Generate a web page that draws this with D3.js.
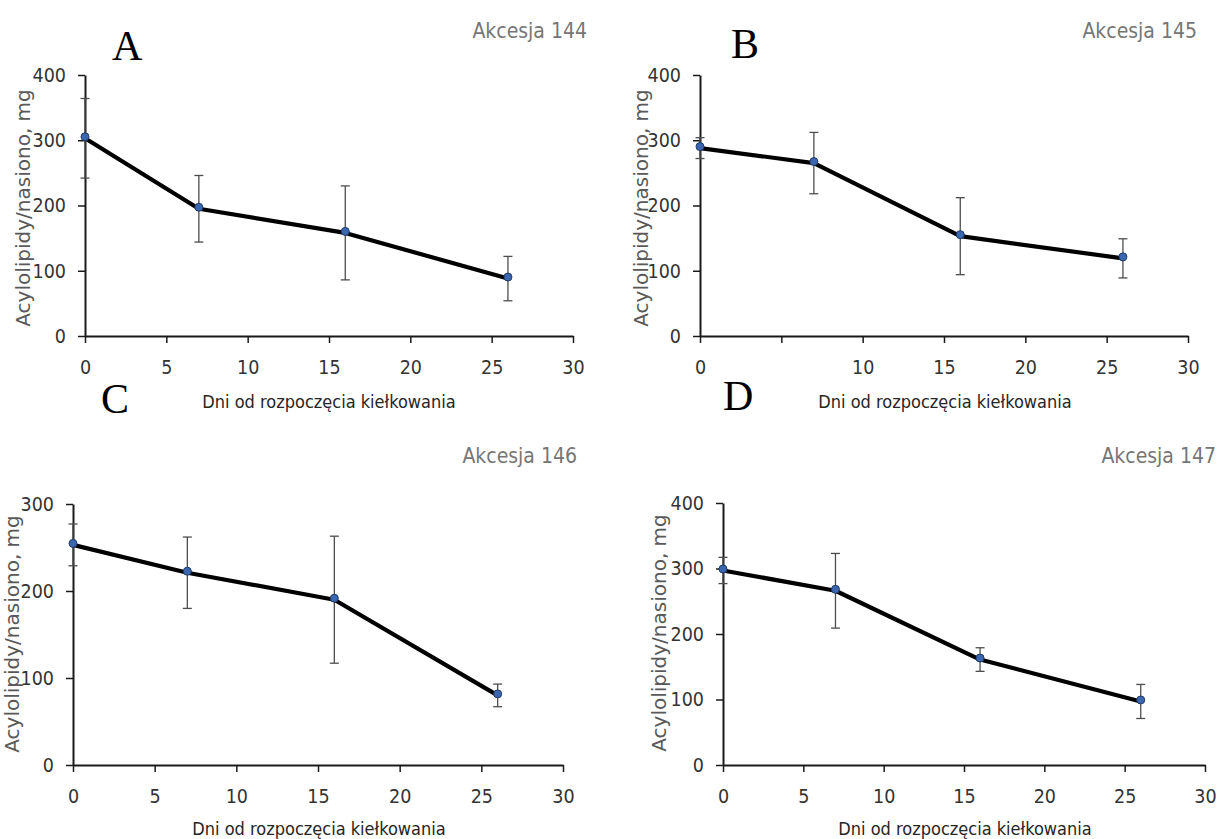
<html>
<head>
	<meta http-equiv="Content-Type" content="text/html; charset=utf-8" />
	<script src="https://cdn.jsdelivr.net/npm/d3@7/dist/d3.min.js" charset="utf-8"></script>
	<style type="text/css">
	body {
		background-color: #FFFFFF;
		margin: 0;
	}
	.tick text, .title, .xlabel {
		font-family: "Liberation Sans Narrow", "DejaVu Sans Condensed", "Open Sans", sans-serif;
		font-stretch: condensed;
	}
	</style>
</head>
<body>

	<svg width="1218" height="839" version="1.1" xmlns="http://www.w3.org/2000/svg"></svg>

	<script type="text/javascript">
		/* 数据 */
		var days        = [0 ,7 ,16 ,26];
		var xTicks      = [0 ,5 ,10 ,15 ,20 ,25 ,30];
		var xTickLabels = ["0" ,"5" ,"10" ,"15" ,"20" ,"25" ,"30"];
		var xTickLabelsB= ["0" ,"" ,"10" ,"15" ,"20" ,"25" ,"30"];
		var yTicks400   = [0 ,100 ,200 ,300 ,400];
		var yTicks300   = [0 ,100 ,200 ,300];
		var titles      = ["Akcesja 144" ,"Akcesja 145" ,"Akcesja 146" ,"Akcesja 147"];
		var letters     = ["A" ,"B" ,"C" ,"D"];
		var xTitle      = "Dni od rozpoczęcia kiełkowania";
		var yTitle      = "Acylolipidy/nasiono, mg";

		var mean144 = [303 ,195 ,158 ,88];
		var err144  = [61  ,51  ,72  ,34];
		var mean145 = [288 ,265 ,153 ,119];
		var err145  = [16  ,47  ,59  ,30];
		var mean146 = [253 ,221 ,190 ,80];
		var err146  = [24  ,41  ,73  ,13];
		var mean147 = [297 ,266 ,161 ,97];
		var err147  = [20  ,57  ,18  ,26];

		/* 布局 */
		var v_Panels = [
			{title: titles[0], letter: letters[0], mean: mean144, err: err144, yTicks: yTicks400, xLabels: xTickLabels,
			 x0: 85,  x1: 573,  yT: 75,  yB: 336, tx: 587,  ty: 38,  lx: 112, ly: 60,  ax: 23,  ay: 208, bx: 329, by: 408},
			{title: titles[1], letter: letters[1], mean: mean145, err: err145, yTicks: yTicks400, xLabels: xTickLabelsB,
			 x0: 700, x1: 1188, yT: 75,  yB: 336, tx: 1197, ty: 38,  lx: 731, ly: 58,  ax: 641, ay: 208, bx: 945, by: 408},
			{title: titles[2], letter: letters[2], mean: mean146, err: err146, yTicks: yTicks300, xLabels: xTickLabels,
			 x0: 73,  x1: 563,  yT: 504, yB: 765, tx: 577,  ty: 463, lx: 101, ly: 413, ax: 12,  ay: 634, bx: 319, by: 835},
			{title: titles[3], letter: letters[3], mean: mean147, err: err147, yTicks: yTicks400, xLabels: xTickLabels,
			 x0: 723, x1: 1205, yT: 503, yB: 765, tx: 1216, ty: 463, lx: 723, ly: 410, ax: 659, ay: 633, bx: 965, by: 835}
		];

		var v_SVG = d3.select("body").select("svg");

		v_SVG.append("rect")
		.attr("width" ,1218)
		.attr("height" ,839)
		.attr("fill" ,"#FFFFFF");

		/**
		 * 绘制一个面板
		 */
		function drawPanel(i_P)
		{
			var v_X = d3.scaleLinear().domain([0 ,30]).range([i_P.x0 ,i_P.x1]);
			var v_Y = d3.scaleLinear().domain([0 ,d3.max(i_P.yTicks)]).range([i_P.yB ,i_P.yT]);
			var v_G = v_SVG.append("g");

			/* 坐标轴 */
			var v_XAxis = v_G.append("g")
			.attr("transform" ,"translate(0," + i_P.yB + ")")
			.call(d3.axisBottom(v_X).tickValues(xTicks).tickSize(7).tickSizeOuter(0).tickPadding(17)
				.tickFormat(function (d ,i) { return i_P.xLabels[i]; }));

			var v_YAxis = v_G.append("g")
			.attr("transform" ,"translate(" + i_P.x0 + ",0)")
			.call(d3.axisLeft(v_Y).tickValues(i_P.yTicks).tickSize(7).tickSizeOuter(0).tickPadding(12));

			[v_XAxis ,v_YAxis].forEach(function (a)
			{
				a.select(".domain").attr("stroke" ,"#1A1A1A").attr("stroke-width" ,2);
				a.selectAll(".tick line").attr("stroke" ,"#1A1A1A").attr("stroke-width" ,1.5);
				a.selectAll(".tick text").attr("fill" ,"#333333").attr("font-size" ,19.5);
			});

			/* 误差线 */
			var v_Err = v_G.append("g")
			.attr("stroke" ,"#4D4D4D")
			.attr("stroke-width" ,1.3)
			.selectAll("g")
			.data(days)
			.enter()
			.append("g");

			v_Err.append("line")
			.attr("x1" ,function (d) { return v_X(d); })
			.attr("x2" ,function (d) { return v_X(d); })
			.attr("y1" ,function (d ,i) { return v_Y(i_P.mean[i] + i_P.err[i]); })
			.attr("y2" ,function (d ,i) { return v_Y(i_P.mean[i] - i_P.err[i]); });

			[1 ,-1].forEach(function (s)
			{
				v_Err.append("line")
				.attr("x1" ,function (d) { return v_X(d) - 4.5; })
				.attr("x2" ,function (d) { return v_X(d) + 4.5; })
				.attr("y1" ,function (d ,i) { return v_Y(i_P.mean[i] + s * i_P.err[i]); })
				.attr("y2" ,function (d ,i) { return v_Y(i_P.mean[i] + s * i_P.err[i]); });
			});

			/* 折线 */
			var v_Line = d3.line()
			.x(function (d) { return v_X(d); })
			.y(function (d ,i) { return v_Y(i_P.mean[i]); });

			v_G.append("path")
			.attr("d" ,v_Line(days))
			.attr("fill" ,"none")
			.attr("stroke" ,"#000000")
			.attr("stroke-width" ,4.2)
			.attr("stroke-linejoin" ,"round");

			v_G.selectAll("circle")
			.data(days)
			.enter()
			.append("circle")
			.attr("cx" ,function (d) { return v_X(d); })
			.attr("cy" ,function (d ,i) { return v_Y(i_P.mean[i]) - 1.5; })
			.attr("r" ,4)
			.attr("fill" ,"#3A67B0")
			.attr("stroke" ,"#1F3A66")
			.attr("stroke-width" ,1);

			/* 文字 */
			v_G.append("text")
			.attr("class" ,"title")
			.attr("x" ,i_P.tx)
			.attr("y" ,i_P.ty)
			.attr("text-anchor" ,"end")
			.attr("font-size" ,21)
			.attr("fill" ,"#767676")
			.text(i_P.title);

			v_G.append("text")
			.attr("class" ,"xlabel")
			.attr("x" ,i_P.bx)
			.attr("y" ,i_P.by)
			.attr("text-anchor" ,"middle")
			.attr("font-size" ,18)
			.attr("fill" ,"#262626")
			.text(xTitle);

			v_G.append("text")
			.attr("transform" ,"translate(" + i_P.ax + "," + i_P.ay + ") rotate(-90)")
			.attr("text-anchor" ,"middle")
			.attr("dy" ,"0.35em")
			.attr("font-family" ,"'DejaVu Sans', Verdana, sans-serif")
			.attr("font-size" ,20)
			.attr("fill" ,"#595959")
			.text(yTitle);

			v_G.append("text")
			.attr("x" ,i_P.lx)
			.attr("y" ,i_P.ly)
			.attr("font-family" ,"'Liberation Serif', 'Times New Roman', serif")
			.attr("font-size" ,42)
			.attr("fill" ,"#000000")
			.text(i_P.letter);
		}

		v_Panels.forEach(drawPanel);
	</script>

</body>
</html>
